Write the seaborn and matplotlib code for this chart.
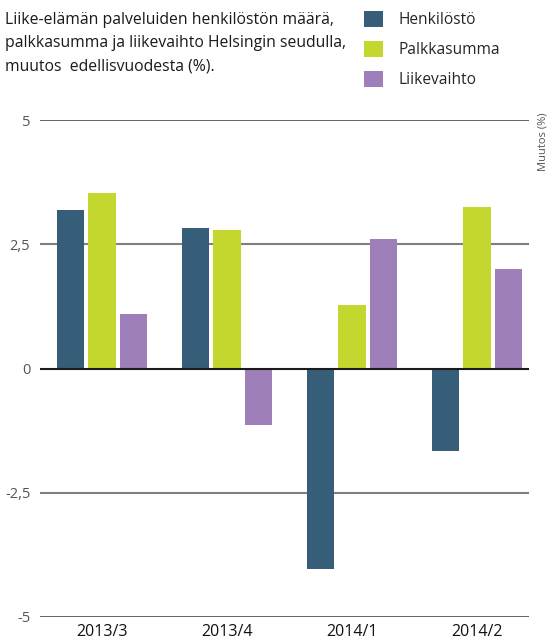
import matplotlib
matplotlib.use("Agg")
import matplotlib.pyplot as plt
import seaborn as sns
import pandas as pd

# Quarterly change from the previous year (%)
quarters = ["2013/3", "2013/4", "2014/1", "2014/2"]
series = ["Henkilöstö", "Palkkasumma", "Liikevaihto"]
henkilosto = [3.18, 2.82, -4.03, -1.67]
palkkasumma = [3.54, 2.78, 1.27, 3.24]
liikevaihto = [1.09, -1.13, 2.60, 2.01]
y_ticks = [-5, -2.5, 0, 2.5, 5]
y_tick_labels = ["-5", "-2,5", "0", "2,5", "5"]

colors = ["#365e78", "#c3d72f", "#9e7fba"]

df = pd.DataFrame({
    "Neljännes": quarters * 3,
    "Sarja": [s for s in series for _ in quarters],
    "Muutos": henkilosto + palkkasumma + liikevaihto,
})

sns.set_style("white")
plt.rcParams["font.family"] = ["Open Sans", "DejaVu Sans"]

fig = plt.figure(figsize=(5.55, 6.44), dpi=100)
ax = fig.add_axes([40 / 555, 1 - 617 / 644, (529 - 40) / 555, (617 - 120) / 644])

# Horizontal reference lines
for y in [5, -5]:
    ax.axhline(y, color="#3a3a3a", lw=1.1, zorder=0)
for y in [2.5, -2.5]:
    ax.axhline(y, color="#808080", lw=1.5, zorder=0)

sns.barplot(data=df, x="Neljännes", y="Muutos", hue="Sarja", order=quarters,
            hue_order=series, palette=colors, width=0.756, gap=0.14,
            saturation=1, linewidth=0, ax=ax, legend=True, zorder=2)

ax.axhline(0, color="#1a1a1a", lw=1.5, zorder=3)

ax.set_xlim(-0.496, 3.416)
ax.set_ylim(-5, 5)
ax.set_yticks(y_ticks)
ax.set_yticklabels(y_tick_labels, color="#555555", fontsize=10.5)
ax.tick_params(axis="y", length=0, pad=7)
ax.tick_params(axis="x", length=0, pad=5, labelsize=11.5, labelcolor="#111111")
ax.set_xlabel("")
ax.set_ylabel("")
for s in ax.spines.values():
    s.set_visible(False)

handles, labels = ax.get_legend_handles_labels()
ax.get_legend().remove()
fig.legend(handles, labels, loc="upper left", bbox_to_anchor=(358 / 555, 1 - 5 / 644),
           frameon=False, fontsize=11.2, handlelength=1.2, handleheight=1.2,
           handletextpad=1.0, labelspacing=0.82, borderaxespad=0, borderpad=0.4)

fig.text(5 / 555, 1 - 12 / 644,
         "Liike-elämän palveluiden henkilöstön määrä,\n"
         "palkkasumma ja liikevaihto Helsingin seudulla,\n"
         "muutos  edellisvuodesta (%).",
         ha="left", va="top", fontsize=11.3, color="#1a1a1a", linespacing=1.6)

fig.text(543 / 555, 1 - 142 / 644, "Muutos (%)", rotation=90, ha="center",
         va="center", fontsize=8, color="#555555")

fig.savefig("out.png", dpi=100)
